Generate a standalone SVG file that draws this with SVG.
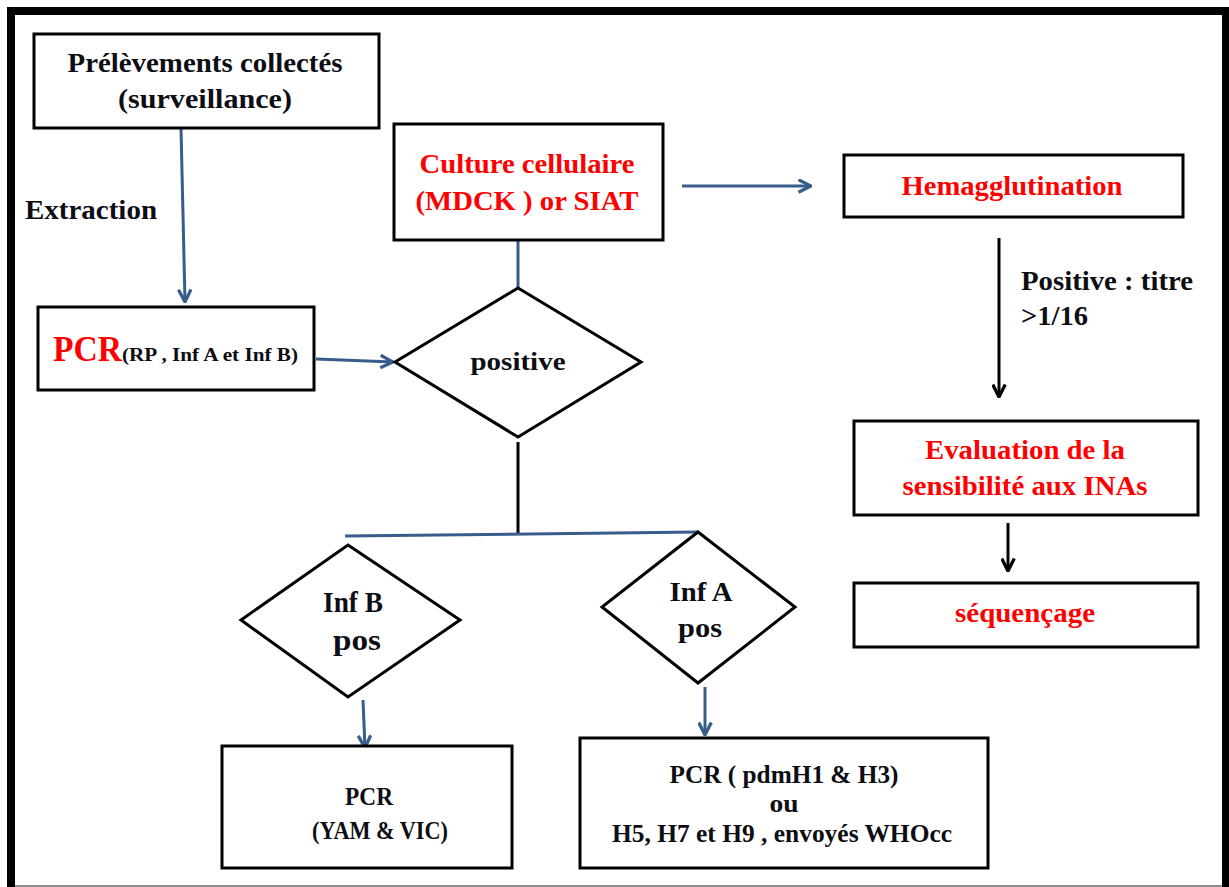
<svg xmlns="http://www.w3.org/2000/svg" width="1229" height="887" viewBox="0 0 1229 887">
  <defs>
    <style>
      .box { fill: #ffffff; stroke: #000000; stroke-width: 3; }
      .dia { fill: #ffffff; stroke: #000000; stroke-width: 3; stroke-linejoin: miter; }
      .t { font-family: "Liberation Serif", "Times New Roman", serif; font-weight: bold; fill: #0d0d14; }
      .red { fill: #ff0000; }
      .blue { fill: none; stroke: #385d8a; stroke-width: 3; }
      .black { fill: none; stroke: #000000; stroke-width: 3; }
    </style>
    <marker id="arrowBlue" viewBox="0 0 12 12" refX="11" refY="6" markerWidth="5" markerHeight="5" orient="auto" markerUnits="strokeWidth">
      <path d="M1,1 L11,6 L1,11" fill="none" stroke="#385d8a" stroke-width="2.6" stroke-linejoin="miter"/>
    </marker>
    <marker id="arrowBlack" viewBox="0 0 12 12" refX="11" refY="6" markerWidth="5" markerHeight="5" orient="auto" markerUnits="strokeWidth">
      <path d="M1,1 L11,6 L1,11" fill="none" stroke="#000000" stroke-width="2.6" stroke-linejoin="miter"/>
    </marker>
  </defs>

  <rect width="1229" height="887" fill="#ffffff"/>

  <!-- page frame -->
  <g id="frame">
    <path d="M11,887 V11 H1226 V887" fill="none" stroke="#000000" stroke-width="8"/>
    <line x1="15" y1="886" x2="1222" y2="886" stroke="#666666" stroke-width="1.5"/>
  </g>

  <!-- connectors -->
  <g id="connectors">
    <path class="blue" d="M181,128 L185,302" marker-end="url(#arrowBlue)"/>
    <path class="blue" d="M316,359 L393,362" marker-end="url(#arrowBlue)"/>
    <path class="blue" d="M682,186 L811,186" marker-end="url(#arrowBlue)"/>
    <path class="blue" d="M518,240 L518,288"/>
    <path class="black" d="M518,442 L518,533"/>
    <path class="blue" d="M345,536 L698,532"/>
    <path class="blue" d="M363,700 L365,748" marker-end="url(#arrowBlue)"/>
    <path class="blue" d="M705,687 L705,735" marker-end="url(#arrowBlue)"/>
    <path class="black" d="M999,238 L999,397" marker-end="url(#arrowBlack)"/>
    <path class="black" d="M1008,523 L1008,571" marker-end="url(#arrowBlack)"/>
  </g>

  <!-- labels on connectors -->
  <g id="label-extraction">
    <text class="t" x="91" y="219" font-size="28" text-anchor="middle" textLength="132" lengthAdjust="spacingAndGlyphs">Extraction</text>
  </g>
  <g id="label-titre">
    <text class="t" x="1021" y="290" font-size="27" textLength="172" lengthAdjust="spacingAndGlyphs">Positive : titre</text>
    <text class="t" x="1021" y="325" font-size="27" textLength="67" lengthAdjust="spacingAndGlyphs">&gt;1/16</text>
  </g>

  <!-- nodes -->
  <g id="prelevements">
    <rect class="box" x="34" y="34" width="345" height="94"/>
    <text class="t" x="205" y="72" font-size="28" text-anchor="middle" textLength="275" lengthAdjust="spacingAndGlyphs">Prélèvements collectés</text>
    <text class="t" x="205" y="108" font-size="28" text-anchor="middle" textLength="174" lengthAdjust="spacingAndGlyphs">(surveillance)</text>
  </g>

  <g id="pcr">
    <rect class="box" x="38" y="307" width="276" height="83"/>
    <text class="t" x="53" y="361"><tspan class="red" font-size="36" textLength="69" lengthAdjust="spacingAndGlyphs">PCR</tspan><tspan font-size="18" textLength="176" lengthAdjust="spacingAndGlyphs">(RP , Inf A et Inf B)</tspan></text>
  </g>

  <g id="culture">
    <rect class="box" x="394" y="124" width="269" height="116"/>
    <text class="t red" x="527" y="173" font-size="28" text-anchor="middle" textLength="215" lengthAdjust="spacingAndGlyphs">Culture cellulaire</text>
    <text class="t red" x="527" y="210" font-size="28" text-anchor="middle" textLength="223" lengthAdjust="spacingAndGlyphs">(MDCK ) or SIAT</text>
  </g>

  <g id="positive">
    <polygon class="dia" points="518,288 641,362 518,437 395,362"/>
    <text class="t" x="518" y="370" font-size="26" text-anchor="middle" textLength="95" lengthAdjust="spacingAndGlyphs">positive</text>
  </g>

  <g id="hemagglutination">
    <rect class="box" x="844" y="155" width="339" height="62"/>
    <text class="t red" x="1012" y="195" font-size="28" text-anchor="middle" textLength="221" lengthAdjust="spacingAndGlyphs">Hemagglutination</text>
  </g>

  <g id="evaluation">
    <rect class="box" x="854" y="421" width="344" height="94"/>
    <text class="t red" x="1025" y="459" font-size="28" text-anchor="middle" textLength="200" lengthAdjust="spacingAndGlyphs">Evaluation de la</text>
    <text class="t red" x="1025" y="495" font-size="28" text-anchor="middle" textLength="245" lengthAdjust="spacingAndGlyphs">sensibilité aux INAs</text>
  </g>

  <g id="sequencage">
    <rect class="box" x="854" y="583" width="344" height="64"/>
    <text class="t red" x="1025" y="622" font-size="28" text-anchor="middle" textLength="140" lengthAdjust="spacingAndGlyphs">séquençage</text>
  </g>

  <g id="infb">
    <polygon class="dia" points="348,545 460,620 348,697 241,620"/>
    <text class="t" x="353" y="612" font-size="29" text-anchor="middle" textLength="60" lengthAdjust="spacingAndGlyphs">Inf B</text>
    <text class="t" x="357" y="650" font-size="29" text-anchor="middle" textLength="48" lengthAdjust="spacingAndGlyphs">pos</text>
  </g>

  <g id="infa">
    <polygon class="dia" points="698,532 795,607 698,683 602,607"/>
    <text class="t" x="701" y="601" font-size="28" text-anchor="middle" textLength="63" lengthAdjust="spacingAndGlyphs">Inf A</text>
    <text class="t" x="700" y="637" font-size="28" text-anchor="middle" textLength="44" lengthAdjust="spacingAndGlyphs">pos</text>
  </g>

  <g id="pcr-b">
    <rect class="box" x="222" y="746" width="290" height="122"/>
    <text class="t" x="369" y="805" font-size="25" text-anchor="middle" textLength="48" lengthAdjust="spacingAndGlyphs">PCR</text>
    <text class="t" x="380" y="839" font-size="25" text-anchor="middle" textLength="136" lengthAdjust="spacingAndGlyphs">(YAM &amp; VIC)</text>
  </g>

  <g id="pcr-a">
    <rect class="box" x="580" y="738" width="408" height="130"/>
    <text class="t" x="784" y="783" font-size="25" text-anchor="middle" textLength="229" lengthAdjust="spacingAndGlyphs">PCR ( pdmH1 &amp; H3)</text>
    <text class="t" x="784" y="812" font-size="25" text-anchor="middle" textLength="29" lengthAdjust="spacingAndGlyphs">ou</text>
    <text class="t" x="782" y="842" font-size="25" text-anchor="middle" textLength="340" lengthAdjust="spacingAndGlyphs">H5, H7 et H9 , envoyés WHOcc</text>
  </g>
</svg>
